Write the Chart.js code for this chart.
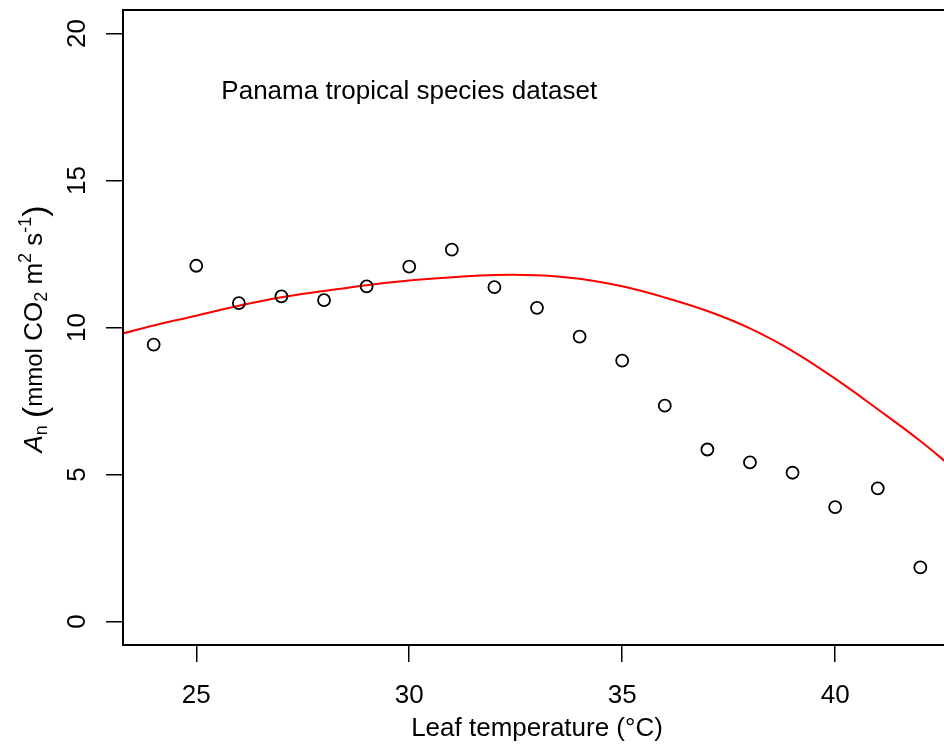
<!DOCTYPE html>
<html><head><meta charset="utf-8">
<script src="https://cdn.jsdelivr.net/npm/chart.js@4"></script>
<style>
html,body{margin:0;padding:0;background:#fff;overflow:hidden;}
#wrap{width:944px;height:745px;overflow:hidden;position:relative;background:#fff;}
#c{position:absolute;left:0;top:0;}
</style></head><body>
<div id="wrap"><canvas id="c" width="972" height="745"></canvas></div>
<script>
// Observed leaf temperature (°C) and net photosynthesis values
const leafTemp = [24, 25, 26, 27, 28, 29, 30, 31, 32, 33, 34, 35, 36, 37, 38, 39, 40, 41, 42];
const netPhoto = [9.42, 12.10, 10.83, 11.06, 10.93, 11.40, 12.07, 12.65, 11.37, 10.67, 9.69, 8.87, 7.34, 5.85, 5.41, 5.06, 3.89, 4.53, 1.84];
// Fitted curve (red line)
const fitTemp = [23.28, 24, 25, 26, 27, 28, 29, 30, 31, 32, 33, 34, 35, 36, 37, 38, 39, 40, 41, 42, 42.72];
const fitPhoto = [9.80, 10.07, 10.40, 10.74, 11.03, 11.24, 11.44, 11.60, 11.71, 11.79, 11.78, 11.66, 11.40, 11.02, 10.56, 9.97, 9.20, 8.26, 7.22, 6.14, 5.28];
// Axis ticks
const xTicks = [25, 30, 35, 40];
const yTicks = [0, 5, 10, 15, 20];
const xRange = [23.28, 42.72];
const yRange = [-0.8, 20.8];
const annotationText = 'Panama tropical species dataset';
const annotationPos = [30, 18];
const xTitle = 'Leaf temperature (\u00B0C)';

const FONT = "'Liberation Sans', Arial, Helvetica, sans-serif";
const FS = 26;

const boxPlugin = {
  id: 'box',
  afterDatasetsDraw(chart) {
    const a = chart.chartArea, ctx = chart.ctx;
    ctx.save();
    ctx.strokeStyle = '#000';
    ctx.lineWidth = 2;
    ctx.strokeRect(a.left, a.top, a.right - a.left, a.bottom - a.top);
    const xs = chart.scales.x, ys = chart.scales.y;
    ctx.fillStyle = '#000';
    ctx.font = FS + 'px ' + FONT;
    ctx.textAlign = 'center';
    ctx.textBaseline = 'middle';
    ctx.fillText(annotationText, xs.getPixelForValue(annotationPos[0]), ys.getPixelForValue(annotationPos[1]));
    ctx.restore();
  }
};

// y-axis title with italic A, subscripts and superscripts
const yTitlePlugin = {
  id: 'ytitle',
  afterDraw(chart) {
    const ctx = chart.ctx;
    const segs = [
      {t: 'A', f: 'italic ' + FS + 'px ' + FONT, dy: 0},
      {t: 'n', f: '18px ' + FONT, dy: 5},
      {t: ' ', f: FS + 'px ' + FONT, dy: 0},
      {t: '(', f: '34px ' + FONT, dy: 4},
      {t: 'mmol', f: '24px ' + FONT, dy: 0},
      {t: ' CO', f: FS + 'px ' + FONT, dy: 0},
      {t: '2', f: '18px ' + FONT, dy: 5},
      {t: ' m', f: FS + 'px ' + FONT, dy: 0},
      {t: '2', f: '18px ' + FONT, dy: -11},
      {t: ' s', f: FS + 'px ' + FONT, dy: 0},
      {t: '-1', f: '18px ' + FONT, dy: -11},
      {t: ')', f: '34px ' + FONT, dy: 4}
    ];
    ctx.save();
    let total = 0;
    segs.forEach(s => { ctx.font = s.f; s.w = ctx.measureText(s.t).width; total += s.w; });
    const cy = 329, bx = 42;
    ctx.translate(bx, cy);
    ctx.rotate(-Math.PI / 2);
    ctx.fillStyle = '#000';
    ctx.textBaseline = 'alphabetic';
    ctx.textAlign = 'left';
    let x = -total / 2;
    segs.forEach(s => { ctx.font = s.f; ctx.fillText(s.t, x, s.dy); x += s.w; });
    ctx.restore();
  }
};

new Chart(document.getElementById('c'), {
  type: 'scatter',
  data: {
    datasets: [
      {
        label: 'observed',
        data: leafTemp.map((t, i) => ({x: t, y: netPhoto[i]})),
        showLine: false,
        pointStyle: 'circle',
        pointRadius: 6,
        pointBorderWidth: 1.8,
        pointBorderColor: '#000',
        pointBackgroundColor: 'rgba(0,0,0,0)',
        order: 1
      },
      {
        label: 'fit',
        data: fitTemp.map((t, i) => ({x: t, y: fitPhoto[i]})),
        showLine: true,
        pointRadius: 0,
        borderColor: '#ff0000',
        borderWidth: 2,
        tension: 0.4,
        fill: false,
        order: 2
      }
    ]
  },
  options: {
    responsive: false,
    animation: false,
    devicePixelRatio: 1,
    layout: {padding: {left: 0, right: 21, top: 10, bottom: 0}},
    plugins: {legend: {display: false}, tooltip: {enabled: false}},
    scales: {
      x: {
        type: 'linear', position: 'bottom',
        min: xRange[0], max: xRange[1],
        afterBuildTicks: s => { s.ticks = xTicks.map(v => ({value: v})); },
        afterFit: s => { s.height = 100; s.paddingLeft = 0; s.paddingRight = 0; },
        grid: {drawOnChartArea: false, drawTicks: true, tickLength: 17, color: '#000', lineWidth: 1.5},
        border: {display: false},
        ticks: {font: {family: FONT, size: FS}, color: '#000', padding: 18, maxRotation: 0, autoSkip: false},
        title: {display: true, text: xTitle, color: '#000', font: {family: FONT, size: FS}, padding: {top: 0, bottom: 1}}
      },
      y: {
        type: 'linear', position: 'left',
        min: yRange[0], max: yRange[1],
        afterBuildTicks: s => { s.ticks = yTicks.map(v => ({value: v})); },
        afterFit: s => { s.width = 123; s.paddingTop = 0; s.paddingBottom = 0; },
        grid: {drawOnChartArea: false, drawTicks: true, tickLength: 17, color: '#000', lineWidth: 1.5},
        border: {display: false},
        ticks: {font: {family: FONT, size: FS}, color: '#000', padding: 14, minRotation: 90, maxRotation: 90, crossAlign: 'center', autoSkip: false}
      }
    }
  },
  plugins: [boxPlugin, yTitlePlugin]
});
</script>
</body></html>
